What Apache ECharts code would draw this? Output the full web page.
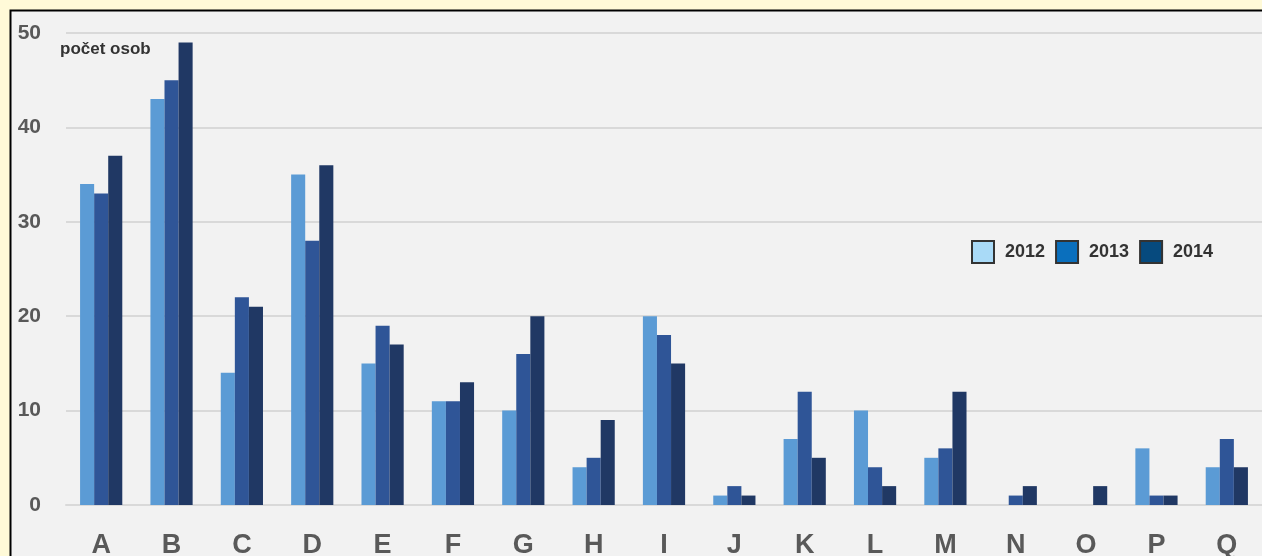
<!DOCTYPE html>
<html><head><meta charset="utf-8">
<script src="https://cdn.jsdelivr.net/npm/echarts@6/dist/echarts.min.js"></script>
<style>html,body{margin:0;padding:0;background:#fffad8;}#c{width:1262px;height:556px;}</style>
</head><body><div id="c"></div>
<script>
const categories = ['A','B','C','D','E','F','G','H','I','J','K','L','M','N','O','P','Q'];
const s2012 = [34,43,14,35,15,11,10,4,20,1,7,10,5,0,0,6,4];
const s2013 = [33,45,22,28,19,11,16,5,18,2,12,4,6,1,0,1,7];
const s2014 = [37,49,21,36,17,13,20,9,15,1,5,2,12,2,2,1,4];
const yTicks = [0,10,20,30,40,50];
const seriesNames = ['2012','2013','2014'];

const chart = echarts.init(document.getElementById('c'));
const font = '"Liberation Sans", Arial, sans-serif';
chart.setOption({
  backgroundColor: '#fffad8',
  animation: false,
  graphic: [
    {type:'rect', z:-10, shape:{x:10.5,y:10.5,width:1400,height:700}, style:{fill:'#f2f2f2', stroke:'#000', lineWidth:2}},
    {type:'text', left:60, top:41, z:10, style:{text:'počet osob', font:'bold 17px ' + font, fill:'#333'}}
  ],
  legend: {
    left: 971, top: 240, padding: 0,
    itemWidth: 22, itemHeight: 22, itemGap: 10,
    textStyle: {fontFamily: font, fontWeight:'bold', fontSize:18, color:'#333', padding:[0,0,0,6]},
    data: [
      {name:'2012', icon:'rect', itemStyle:{color:'#a9daf7', borderColor:'#333', borderWidth:2}},
      {name:'2013', icon:'rect', itemStyle:{color:'#0a6fbd', borderColor:'#333', borderWidth:2}},
      {name:'2014', icon:'rect', itemStyle:{color:'#064a7e', borderColor:'#333', borderWidth:2}}
    ]
  },
  grid: {left: 66, right: 0, top: 33, bottom: 51, containLabel: false, outerBoundsMode: 'none'},
  xAxis: {
    type:'category', data: categories,
    axisTick:{show:false},
    axisLine:{show:true, lineStyle:{color:'#d9d9d9', width:2}},
    axisLabel:{fontFamily: font, fontWeight:'bold', fontSize:27, color:'#595959', margin:27}
  },
  yAxis: {
    type:'value', min: yTicks[0], max: yTicks[yTicks.length-1], interval: 10,
    axisLine:{show:false}, axisTick:{show:false},
    splitLine:{lineStyle:{color:'#d9d9d9', width:2}},
    axisLabel:{fontFamily: font, fontWeight:'bold', fontSize:21, color:'#595959', margin:25}
  },
  series: [
    {name:seriesNames[0], type:'bar', data:s2012, barGap:'0%', barCategoryGap:'40%', itemStyle:{color:'#5b9bd5'}},
    {name:seriesNames[1], type:'bar', data:s2013, barGap:'0%', barCategoryGap:'40%', itemStyle:{color:'#2f5597'}},
    {name:seriesNames[2], type:'bar', data:s2014, barGap:'0%', barCategoryGap:'40%', itemStyle:{color:'#203864'}}
  ]
});
</script></body></html>
